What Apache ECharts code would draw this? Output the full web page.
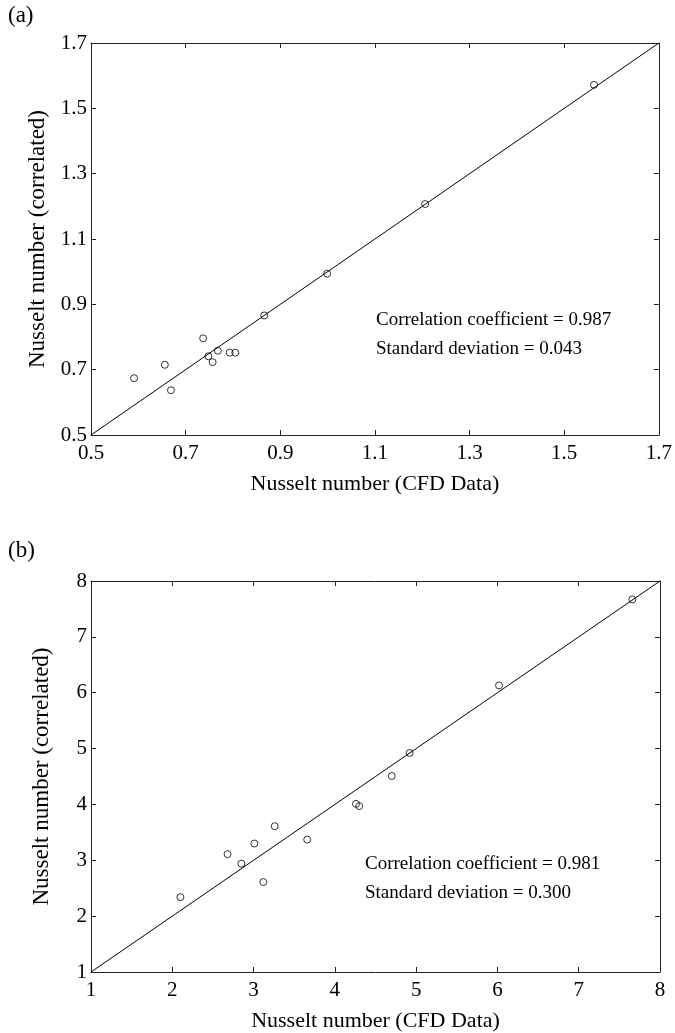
<!DOCTYPE html>
<html><head><meta charset="utf-8">
<script src="https://cdn.jsdelivr.net/npm/echarts@6/dist/echarts.min.js"></script>
<style>html,body{margin:0;padding:0;background:#fff}#c{width:675px;height:1033px}</style>
</head><body><div id="c"></div>
<script>
// Panel (a)
const aCfd  = [0.591, 0.656, 0.669, 0.737, 0.748, 0.757, 0.768, 0.793, 0.805, 0.866, 0.999, 1.206, 1.563];
const aCorr = [0.674, 0.715, 0.637, 0.796, 0.741, 0.723, 0.758, 0.752, 0.752, 0.866, 0.994, 1.207, 1.572];
const aTicks = [0.5, 0.7, 0.9, 1.1, 1.3, 1.5, 1.7];
const aStats = ['Correlation coefficient = 0.987', 'Standard deviation = 0.043'];
// Panel (b)
const bCfd  = [2.10, 2.68, 2.85, 3.01, 3.12, 3.26, 3.66, 4.26, 4.30, 4.70, 4.92, 6.02, 7.66];
const bCorr = [2.34, 3.11, 2.94, 3.30, 2.61, 3.61, 3.37, 4.01, 3.97, 4.51, 4.92, 6.13, 7.67];
const bTicks = [1, 2, 3, 4, 5, 6, 7, 8];
const bStats = ['Correlation coefficient = 0.981', 'Standard deviation = 0.300'];
const panelLabels = ['(a)', '(b)'];
const xName = 'Nusselt number (CFD Data)';
const yName = 'Nusselt number (correlated)';

const FONT = "'Times New Roman', 'Liberation Serif', 'DejaVu Serif', serif";
const chart = echarts.init(document.getElementById('c'), null, {renderer: 'canvas'});

function axisPair(ticks, gridIndex, dec, isX) {
  const min = ticks[0], max = ticks[ticks.length - 1];
  const interval = ticks[1] - ticks[0];
  const common = {
    type: 'value', gridIndex, min, max, interval,
    splitLine: {show: false},
    axisLine: {show: true, onZero: false, lineStyle: {color: '#222', width: 1}},
    axisTick: {show: true, inside: true, length: 5, lineStyle: {color: '#222'}}
  };
  const main = Object.assign({}, common, {
    position: isX ? 'bottom' : 'left',
    name: isX ? xName : yName,
    nameLocation: 'middle',
    nameGap: isX ? 38 : 38,
    nameTextStyle: {fontFamily: FONT, fontSize: isX ? 22 : 23, color: '#000'},
    axisLabel: {show: true, fontFamily: FONT, fontSize: 21, color: '#000', margin: isX ? 8 : 4,
      formatter: v => Number(v).toFixed(dec)}
  });
  const other = Object.assign({}, common, {
    position: isX ? 'top' : 'right',
    axisLabel: {show: false}
  });
  return [main, other];
}

const aX = axisPair(aTicks, 0, 1, true), aY = axisPair(aTicks, 0, 1, false);
const bX = axisPair(bTicks, 1, 0, true), bY = axisPair(bTicks, 1, 0, false);

function scatter(xs, ys, xi, yi) {
  return {
    type: 'scatter', xAxisIndex: xi, yAxisIndex: yi,
    data: xs.map((x, i) => [x, ys[i]]),
    symbol: 'circle', symbolSize: 7,
    itemStyle: {color: 'rgba(0,0,0,0)', borderColor: '#000', borderWidth: 1},
    z: 3, silent: true
  };
}
function diag(ticks, xi, yi) {
  const a = ticks[0], b = ticks[ticks.length - 1];
  return {
    type: 'line', xAxisIndex: xi, yAxisIndex: yi,
    data: [[a, a], [b, b]], symbol: 'none',
    lineStyle: {color: '#000', width: 1}, z: 2, silent: true
  };
}
function statText(lines, left, top) {
  return lines.map((t, i) => ({
    type: 'text', left: left, top: top + i * 29,
    style: {text: t, font: '19px ' + FONT, fill: '#000'}
  }));
}

chart.setOption({
  animation: false,
  grid: [
    {left: 91, right: 15, top: 43, height: 392},
    {left: 91, right: 15, top: 581, height: 392}
  ],
  xAxis: [aX[0], aX[1], bX[0], bX[1]],
  yAxis: [aY[0], aY[1], bY[0], bY[1]],
  series: [
    diag(aTicks, 0, 0), scatter(aCfd, aCorr, 0, 0),
    diag(bTicks, 2, 2), scatter(bCfd, bCorr, 2, 2)
  ],
  graphic: [
    {type: 'text', left: 8, top: 4, style: {text: panelLabels[0], font: '23px ' + FONT, fill: '#000'}},
    {type: 'text', left: 8, top: 539, style: {text: panelLabels[1], font: '23px ' + FONT, fill: '#000'}}
  ].concat(statText(aStats, 376, 311), statText(bStats, 365, 855))
});
</script></body></html>
